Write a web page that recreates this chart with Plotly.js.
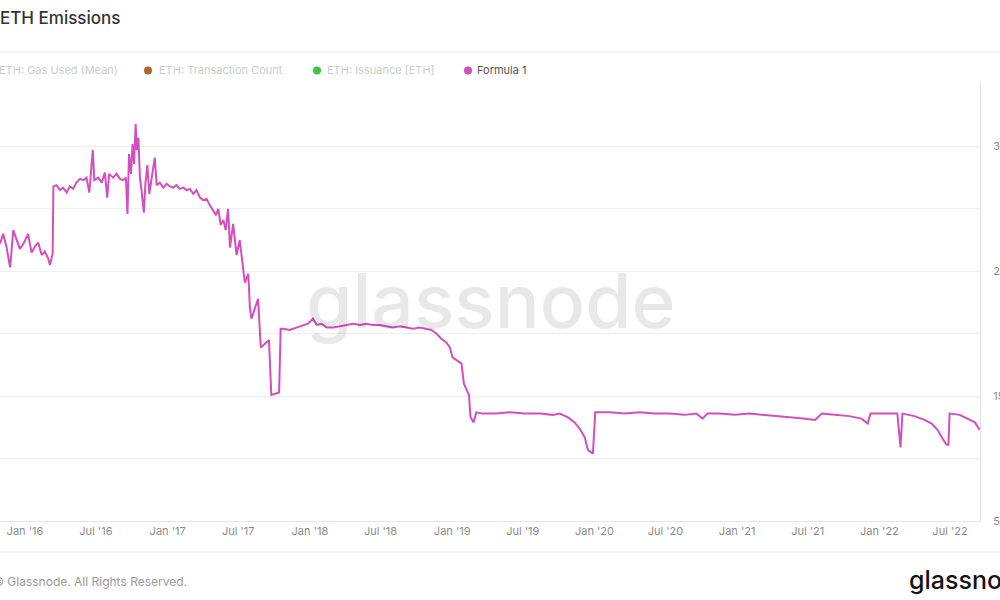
<!DOCTYPE html>
<html>
<head>
<meta charset="utf-8">
<script src="https://cdn.plot.ly/plotly-3.0.1.min.js"></script>
<style>
  html, body { margin: 0; padding: 0; background: #ffffff; }
  #chart { width: 1000px; height: 600px; }
</style>
</head>
<body>
<div id="chart"></div>
<script>
// ---- Data (values in ETH per day) ----
const formulaDates = [
  "2015-10-29","2015-11-06","2015-11-15","2015-11-24","2015-12-02","2015-12-11","2015-12-19","2015-12-28",
  "2016-01-09","2016-01-18","2016-01-27","2016-02-04","2016-02-13","2016-02-21","2016-03-01","2016-03-05",
  "2016-03-12","2016-03-14","2016-03-22","2016-03-31","2016-04-08","2016-04-17","2016-04-25","2016-05-04",
  "2016-05-12","2016-05-21","2016-05-30","2016-06-07","2016-06-14","2016-06-17","2016-06-23","2016-06-27",
  "2016-07-07","2016-07-16","2016-07-24","2016-07-30","2016-08-04","2016-08-14","2016-08-23","2016-09-01",
  "2016-09-09","2016-09-16","2016-09-20","2016-09-24","2016-09-29","2016-10-03","2016-10-07","2016-10-11",
  "2016-10-14","2016-10-18","2016-10-22","2016-10-26","2016-11-01","2016-11-05","2016-11-10","2016-11-15",
  "2016-11-21","2016-11-29","2016-12-04","2016-12-12","2016-12-21","2016-12-29","2017-01-07","2017-01-15",
  "2017-01-24","2017-02-01","2017-02-10","2017-02-19","2017-02-27","2017-03-08","2017-03-16","2017-03-25",
  "2017-04-02","2017-04-11","2017-04-19","2017-04-28","2017-05-05","2017-05-11","2017-05-17","2017-05-24",
  "2017-05-30","2017-06-05","2017-06-10","2017-06-18","2017-06-27","2017-07-05","2017-07-18","2017-07-27",
  "2017-07-31","2017-08-04","2017-08-13","2017-08-21","2017-08-28","2017-09-07","2017-09-18","2017-09-24",
  "2017-10-06","2017-10-14","2017-10-18","2017-10-24","2017-11-10","2017-11-28","2017-12-15","2017-12-27",
  "2018-01-09","2018-01-18","2018-01-31","2018-02-13","2018-03-02","2018-03-19","2018-04-05","2018-04-22",
  "2018-05-09","2018-05-26","2018-06-12","2018-06-29","2018-07-16","2018-08-02","2018-08-20","2018-09-06",
  "2018-09-23","2018-10-10","2018-10-27","2018-11-09","2018-11-22","2018-12-04","2018-12-17","2018-12-26",
  "2019-01-02","2019-01-12","2019-01-25","2019-01-31","2019-02-08","2019-02-13","2019-02-17","2019-02-25",
  "2019-03-04","2019-03-21","2019-04-24","2019-05-29","2019-07-06","2019-08-14","2019-09-16","2019-10-04",
  "2019-10-25","2019-11-11","2019-11-24","2019-12-07","2019-12-15","2019-12-28","2020-01-03","2020-02-09",
  "2020-03-18","2020-04-26","2020-06-03","2020-07-12","2020-08-19","2020-09-19","2020-10-04","2020-10-17",
  "2020-11-17","2020-12-26","2021-02-02","2021-03-12","2021-04-20","2021-05-16","2021-06-20","2021-07-20",
  "2021-08-06","2021-09-08","2021-10-16","2021-11-16","2021-12-02","2021-12-09","2022-01-14","2022-02-16",
  "2022-02-24","2022-03-01","2022-04-01","2022-04-27","2022-05-15","2022-05-30","2022-06-12","2022-06-22",
  "2022-06-27","2022-06-30","2022-07-26","2022-08-16","2022-09-03","2022-09-13","2022-09-15"
];
const formulaValues = [
  27200,28000,26900,25300,28300,27500,26800,27200,
  28000,26500,27000,27300,26300,26600,26000,25500,
  26400,31800,31900,31500,31700,31300,31800,31600,
  32100,32400,32300,32500,31300,32400,34700,32300,
  32500,32100,32900,30900,32800,32500,32800,32400,
  32300,32500,29600,34400,32800,35200,33600,36800,
  34700,35700,32500,31500,29700,32000,33500,31200,
  32500,34100,31900,32100,31700,32000,31800,31700,
  31900,31600,31700,31500,31600,31200,31500,30900,
  30700,30800,30300,29900,29500,30000,28700,29100,
  28300,30000,26900,28800,26300,27500,24100,24800,
  22100,21200,22100,22800,18900,19200,19500,15100,
  15200,15300,20400,20400,20300,20500,20700,20800,
  21200,20700,20800,20500,20500,20600,20700,20800,
  20700,20800,20700,20700,20600,20500,20600,20500,
  20400,20500,20400,20300,20000,19600,19300,18900,
  18100,17900,17600,16000,15500,15100,13300,12900,
  13700,13600,13600,13700,13600,13600,13500,13600,
  13300,12900,12400,11700,10700,10400,13700,13700,
  13600,13700,13600,13600,13500,13600,13200,13600,
  13600,13500,13600,13500,13400,13300,13200,13100,
  13600,13500,13400,13200,12800,13600,13600,13600,
  10900,13600,13400,13100,12800,12300,11600,11100,
  11100,13600,13500,13200,12900,12400,12300
];

// Series shown in the legend (only "Formula 1" is switched on)
const seriesNames  = ["ETH: Gas Used (Mean)", "ETH: Transaction Count", "ETH: Issuance [ETH]", "Formula 1"];
const seriesColors = ["#6f8fd8", "#b0632a", "#3ec43e", "#d34fbd"];
const seriesActive = [false, false, false, true];

// Axis ticks
const yTickVals  = [5000, 10000, 15000, 20000, 25000, 30000, 35000];
const yTickText  = ["5k", "", "15k", "", "25k", "", "35k"];

// ---- Layout helpers (pixel -> paper) ----
const W = 1000, H = 600;
const M = { l: 0, r: 20, t: 84, b: 79 };
const PW = W - M.l - M.r, PH = H - M.t - M.b;
const px = x => (x - M.l) / PW;
const py = y => (H - M.b - y) / PH;

const trace = {
  x: formulaDates,
  y: formulaValues,
  type: "scatter",
  mode: "lines",
  name: seriesNames[3],
  line: { color: seriesColors[3], width: 2 },
  showlegend: false,
  hoverinfo: "x+y"
};

// legend (manual, glassnode style dots)
const legendDotX  = [-11, 148, 317, 468];
const legendTextX = [-3, 157, 325, 475];
const legendY = py(70.5);

const shapes = [
  { type: "line", xref: "paper", yref: "paper", x0: -0.01, x1: 1.03, y0: py(52), y1: py(52),
    line: { color: "#ececec", width: 1 } },
  { type: "line", xref: "paper", yref: "paper", x0: -0.01, x1: 1.03, y0: py(552), y1: py(552),
    line: { color: "#ececec", width: 1 } }
];
const annotations = [];
seriesNames.forEach((n, i) => {
  shapes.push({
    type: "circle", xref: "paper", yref: "paper",
    xsizemode: "pixel", ysizemode: "pixel",
    xanchor: px(legendDotX[i]), yanchor: legendY,
    x0: -4, x1: 4, y0: -4, y1: 4,
    fillcolor: seriesColors[i], line: { width: 0 }
  });
  annotations.push({
    xref: "paper", yref: "paper", x: px(legendTextX[i]), y: legendY,
    xanchor: "left", yanchor: "middle", showarrow: false, text: n,
    font: { family: "Inter, 'Open Sans', sans-serif", size: 11, color: seriesActive[i] ? "#555555" : "#cdcdcd" }
  });
});

// watermark
annotations.push({
  xref: "paper", yref: "paper", x: px(491), y: py(300), xanchor: "center", yanchor: "middle",
  showarrow: false, text: "glassnode",
  font: { family: "Inter, 'Open Sans', sans-serif", size: 75, weight: 500, color: "rgba(0,0,0,0.09)" }
});
// footer
annotations.push({
  xref: "paper", yref: "paper", x: px(-9), y: py(581), xanchor: "left", yanchor: "middle",
  showarrow: false, text: "© Glassnode. All Rights Reserved.",
  font: { family: "Inter, 'Open Sans', sans-serif", size: 12, color: "#9a9a9a" }
});
annotations.push({
  xref: "paper", yref: "paper", x: px(907), y: py(580), xanchor: "left", yanchor: "middle",
  showarrow: false, text: "glassnode",
  font: { family: "Inter, 'Open Sans', sans-serif", size: 25, weight: 500, color: "#141414" }
});

const layout = {
  width: W, height: H,
  margin: M,
  paper_bgcolor: "#ffffff",
  plot_bgcolor: "#ffffff",
  showlegend: false,
  font: { family: "Inter, 'Open Sans', sans-serif", color: "#8c8c8c" },
  title: {
    text: "ETH Emissions",
    xref: "container", yref: "container",
    x: 0, xanchor: "left", y: 1 - 18 / H, yanchor: "middle",
    font: { family: "Inter, 'Open Sans', sans-serif", size: 17, color: "#333333", weight: 500 }
  },
  xaxis: {
    type: "date",
    range: ["2015-10-29", "2022-09-16"],
    tick0: "2016-01-01",
    dtick: "M6",
    tickformat: "%b '%y",
    showgrid: false,
    zeroline: false,
    showline: true,
    linecolor: "#e6e6e6",
    ticks: "",
    tickfont: { size: 11, color: "#8c8c8c" }
  },
  yaxis: {
    side: "right",
    range: [5000, 40000],
    tickmode: "array",
    tickvals: yTickVals,
    ticktext: yTickText,
    gridcolor: "#efefef",
    zeroline: false,
    showline: true,
    linecolor: "#e0e0e0",
    ticks: "",
    ticklabelstandoff: 10,
    tickfont: { size: 11, color: "#8c8c8c" }
  },
  shapes: shapes,
  annotations: annotations
};

Plotly.newPlot("chart", [trace], layout, { displayModeBar: false, staticPlot: true });
</script>
</body>
</html>
